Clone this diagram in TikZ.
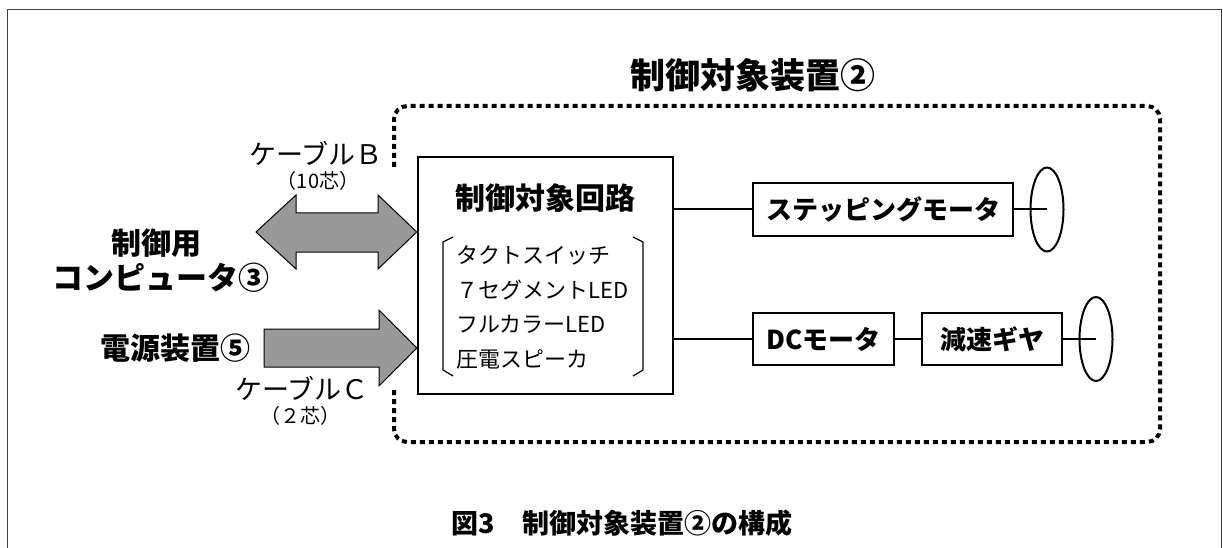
\documentclass[tikz,border=0pt]{standalone}
\usepackage{fontspec}
\setmainfont{Noto Sans CJK JP}
\usetikzlibrary{shapes.geometric}
\begin{document}
\begin{tikzpicture}[x=1pt,y=-1pt,
  fs/.style={font=\fontsize{#1}{#1}\selectfont},
  bfs/.style={font=\fontsize{#1}{#1}\selectfont\bfseries},
  partbox/.style={draw, line width=2.2pt, inner sep=0pt, bfs=26},
  conn/.style={line width=2pt},
  bigarrow/.style={fill=black!40, draw=black, line width=1pt, line join=miter},
  dotline/.style={line width=4pt, dash pattern=on 5pt off 4pt, rounded corners=13pt},
  wheel/.style={draw, ellipse, line width=2pt, inner sep=0pt, minimum width=33pt, minimum height=84pt},
  lbl/.style={inner sep=0pt}]
\useasboundingbox (0,0) rectangle (1223,548);
% outer frame
\draw[line width=1pt, black!75] (7,548) -- (7,10) -- (1221,10) -- (1221,548);
% title
\node[lbl, bfs=35] (title) at (753,75) {制御対象装置②};
% dotted enclosure
\draw[dotline] (394,167) -- (394,106) -- (1160,106) -- (1160,442) -- (394,442) -- (394,387);
% main circuit box
\node[draw, line width=2.4pt, minimum width=255pt, minimum height=237pt, inner sep=0pt] (main) at (545.5,275.5) {};
\node[lbl, bfs=30] (maintitle) at (545,198) {制御対象回路};
\node[lbl, fs=22, anchor=west] (i1) at (456,255) {タクトスイッチ};
\node[lbl, fs=22, anchor=west] (i2) at (456,290) {７セグメントLED};
\node[lbl, fs=22, anchor=west] (i3) at (456,324) {フルカラーLED};
\node[lbl, fs=22, anchor=west] (i4) at (456,359) {圧電スピーカ};
\draw[line width=1.2pt] (453,237) -- (443,242) -- (443,370) -- (453,376);
\draw[line width=1.2pt] (633,237) -- (643,242) -- (643,370) -- (633,376);
% parts
\node[partbox, minimum width=260pt, minimum height=53pt] (step) at (883,209.5) {ステッピングモータ};
\node[partbox, minimum width=141pt, minimum height=52pt] (dc) at (823.5,339) {DCモータ};
\node[partbox, minimum width=140pt, minimum height=52pt] (gear) at (992,339) {減速ギヤ};
\node[wheel] (w1) at (1047,209.5) {};
\node[wheel] (w2) at (1096,339) {};
\draw[conn] (main.east |- step.west) -- (step.west);
\draw[conn] (step.east) -- (w1.center);
\draw[conn] (main.east |- dc.west) -- (dc.west);
\draw[conn] (dc.east) -- (gear.west);
\draw[conn] (gear.east) -- (w2.center);
% left side labels
\node[lbl, bfs=30] (pc1) at (156,243) {制御用};
\node[lbl, bfs=31] (pc2) at (161,278) {コンピュータ③};
\node[lbl, bfs=30] (psu) at (175,348) {電源装置⑤};
\node[lbl, fs=27] (cb) at (316,153) {ケーブルＢ};
\node[lbl, fs=20] (cb2) at (318,181) {（10芯）};
\node[lbl, fs=27] (cc) at (302,388) {ケーブルＣ};
\node[lbl, fs=20] (cc2) at (300,416) {（２芯）};
% big arrows
\coordinate (dtip) at (main.west |- 0,232);
\coordinate (stip) at (main.west |- 0,348);
\draw[bigarrow] (dtip) -- (378,195) -- (378,213) -- (296,213) -- (296,195) -- (256,232)
  -- (296,269) -- (296,252) -- (378,252) -- (378,269) -- cycle;
\draw[bigarrow] (stip) -- (379,310) -- (379,329) -- (264,329) -- (264,367) -- (379,367) -- (379,386) -- cycle;
% caption
\node[lbl, bfs=27] (cap) at (622,523) {図3　制御対象装置②の構成};
\end{tikzpicture}
\end{document}
